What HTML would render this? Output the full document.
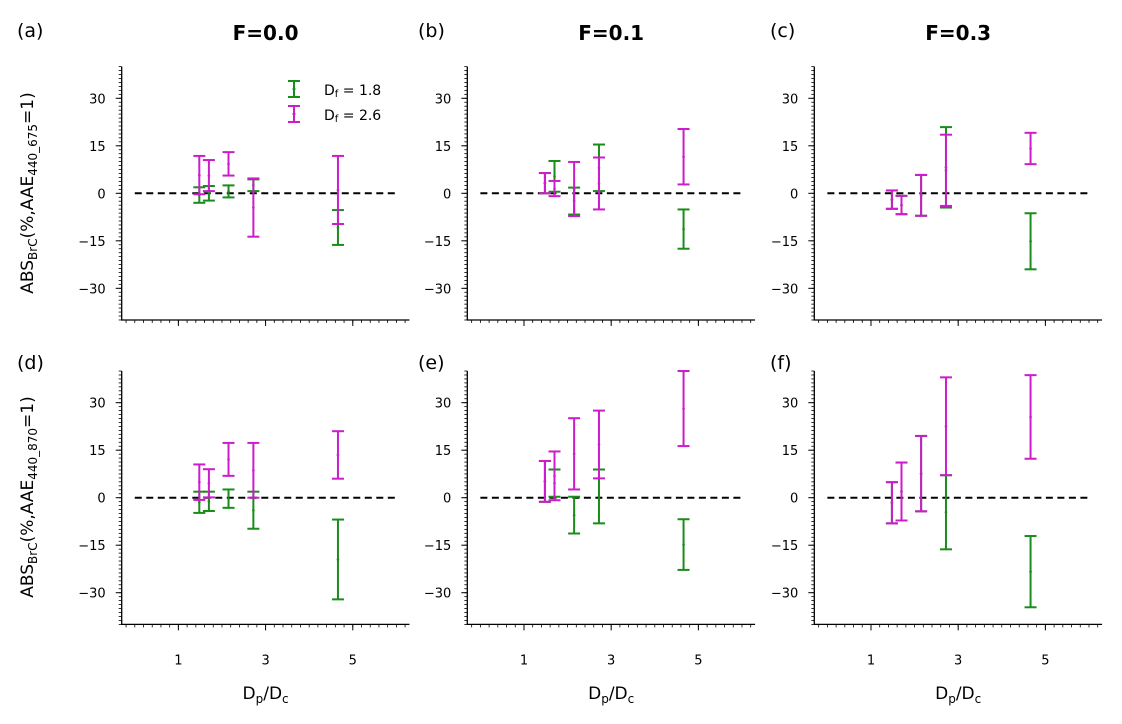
<!DOCTYPE html>
<html><head><meta charset="utf-8">
<style>
body{margin:0;background:#fff;}
svg{display:block;font-family:"DejaVu Sans","Liberation Sans",sans-serif;}
</style></head>
<body>
<svg id="fig" width="1122" height="724" viewBox="0 0 1122 724"></svg>
<script>
const xs = [1.48, 1.70, 2.15, 2.72, 4.66];
const panelLabels = ["(a)","(b)","(c)","(d)","(e)","(f)"];
const colTitles = ["F=0.0","F=0.1","F=0.3"];
const yTicks = [-30,-15,0,15,30];
const xTicks = [1,3,5];
// [low, high] per x position
const greenA = [[-3.0,1.9],[-2.3,2.3],[-1.3,2.5],[0.7,4.4],[-16.3,-5.3]];
const magA   = [[-0.3,11.8],[0.7,10.5],[5.6,13.0],[-13.7,4.7],[-9.7,11.8]];
const greenB = [[0.0,6.4],[0.5,10.2],[-6.7,1.8],[0.7,15.4],[-17.5,-5.1]];
const magB   = [[0.0,6.4],[-0.9,3.9],[-7.2,9.9],[-5.1,11.3],[2.8,20.3]];
const greenC = [[-4.9,0.9],[-6.6,-0.8],[-7.1,5.8],[-4.5,20.9],[-24.0,-6.3]];
const magC   = [[-4.9,0.9],[-6.6,-0.8],[-7.1,5.8],[-4.0,18.5],[9.2,19.1]];
const greenD = [[-4.8,1.9],[-4.2,1.9],[-3.2,2.6],[-9.8,1.9],[-32.1,-6.9]];
const magD   = [[-0.7,10.5],[0.1,9.0],[6.9,17.3],[0.0,17.3],[6.0,21.0]];
const greenE = [[-1.3,11.6],[0.3,8.9],[-11.3,0.3],[-8.1,8.9],[-22.8,-6.8]];
const magE   = [[-1.3,11.6],[-0.8,14.6],[2.6,25.1],[6.1,27.5],[16.3,40.0]];
const greenF = [[-8.1,4.9],[-7.2,11.1],[-4.3,19.5],[-16.3,7.1],[-34.6,-12.1]];
const magF   = [[-8.1,4.9],[-7.2,11.1],[-4.3,19.5],[7.1,38.0],[12.3,38.7]];

const greens=[greenA,greenB,greenC,greenD,greenE,greenF];
const mags=[magA,magB,magC,magD,magE,magF];
const NS="http://www.w3.org/2000/svg";
const svg=document.getElementById('fig');
function mk(tag,attrs,parent){const e=document.createElementNS(NS,tag);for(const k in attrs)e.setAttribute(k,attrs[k]);(parent||svg).appendChild(e);return e;}

const colLeft=[121.7,467.3,814.3];
const rowZero=[193.3,497.7];
const pxPerY=3.167, pxPerX=43.6;
const GREEN="#1a8c1a", MAG="#cc1ccc";

for(let p=0;p<6;p++){
  const r=Math.floor(p/3), c=p%3;
  const L=colLeft[c], Z=rowZero[r];
  const sx=v=>L+(v+0.3)*pxPerX;
  const sy=v=>Z-v*pxPerY;
  const g=mk('g',{});
  
  
  const top=sy(40), bot=sy(-40), right=sx(6.3);
  const ls=mk('line',{x1:L,y1:top,x2:L,y2:bot+0.5,stroke:'#000','stroke-width':1.3},g);
  
  
  const bs=mk('line',{x1:L-0.5,y1:bot,x2:right,y2:bot,stroke:'#000','stroke-width':1.3},g);
  
  
  for(let v=-40;v<=40.01;v+=1.25){
    mk('line',{x1:L-3,y1:sy(v),x2:L,y2:sy(v),stroke:'#000','stroke-width':0.8},g);
  }
  for(const t of yTicks){
    mk('line',{x1:L-6,y1:sy(t),x2:L,y2:sy(t),stroke:'#000','stroke-width':1},g);
    const tl=mk('text',{x:L-16,y:sy(t)+5,'text-anchor':'end','font-size':13},g);
    tl.textContent=String(t).replace('-','\u2212');
    
    
  }
  for(let v=-0.2;v<=6.21;v+=0.2){
    mk('line',{x1:sx(v),y1:bot,x2:sx(v),y2:bot+3,stroke:'#000','stroke-width':0.8},g);
  }
  for(const t of xTicks){
    mk('line',{x1:sx(t),y1:bot,x2:sx(t),y2:bot+6,stroke:'#000','stroke-width':1},g);
    if(r===1){
      const tl=mk('text',{x:sx(t),y:bot+40,'text-anchor':'middle','font-size':13},g);
      tl.textContent=t;
      
      
    }
  }
  const zl=mk('line',{x1:sx(0),y1:sy(0),x2:sx(6),y2:sy(0),stroke:'#000','stroke-width':2,'stroke-dasharray':'7,4.5'},g);
  
  
  const drawSeries=(data,color,name)=>{
    data.forEach((d,i)=>{
      const x=sx(xs[i]), y1=sy(d[0]), y2=sy(d[1]);
      const eg=mk('g',{stroke:color,'stroke-width':2},g);
      
      
      mk('line',{x1:x,y1:y1,x2:x,y2:y2},eg);
      mk('line',{x1:x-6,y1:y1,x2:x+6,y2:y1},eg);
      mk('line',{x1:x-6,y1:y2,x2:x+6,y2:y2},eg);
      mk('circle',{cx:x,cy:(y1+y2)/2,r:1.3,fill:color,stroke:'none'},eg);
    });
  };
  drawSeries(greens[p],GREEN,'df-1.8');
  drawSeries(mags[p],MAG,'df-2.6');
  const pl=mk('text',{x:[17,418,770][c],y:[37,369][r],'font-size':19},g);
  pl.textContent=panelLabels[p];
  
  
  if(r===0){
    const tt=mk('text',{x:sx(3),y:40,'text-anchor':'middle','font-size':20,'font-weight':'bold'},g);
    tt.textContent=colTitles[c];
    
    
  } else {
    const xl=mk('text',{x:sx(3),y:699,'text-anchor':'middle','font-size':17},g);
    xl.innerHTML='D<tspan font-size="12" dy="4">p</tspan><tspan dy="-4">/D</tspan><tspan font-size="12" dy="4">c</tspan>';
    
    
  }
}
function ylab(cy,sub){
  const t=mk('text',{x:0,y:0,'text-anchor':'middle','font-size':17,transform:`translate(33,${cy}) rotate(-90)`});
  t.innerHTML=`ABS<tspan font-size="12" dy="4">BrC</tspan><tspan dy="-4">(%,AAE</tspan><tspan font-size="12" dy="4">${sub}</tspan><tspan dy="-4">=1)</tspan>`;
  
  
}
ylab(193,'440_675');
ylab(497,'440_870');
const lg=mk('g',{});


[[GREEN,89,'1.8'],[MAG,114,'2.6']].forEach(([col,y,v])=>{
  const e=mk('g',{stroke:col,'stroke-width':2},lg);
  
  
  mk('line',{x1:294,y1:y-8,x2:294,y2:y+8},e);
  mk('line',{x1:288,y1:y-8,x2:300,y2:y-8},e);
  mk('line',{x1:288,y1:y+8,x2:300,y2:y+8},e);
  mk('circle',{cx:294,cy:y,r:1.5,fill:col,stroke:'none'},e);
  const t=mk('text',{x:324,y:y+6,'font-size':14,stroke:'none',fill:'#000'},lg);
  t.innerHTML=`D<tspan font-size="10" dy="2">f</tspan><tspan dy="-2"> = ${v}</tspan>`;
});
</script>
</body></html>
